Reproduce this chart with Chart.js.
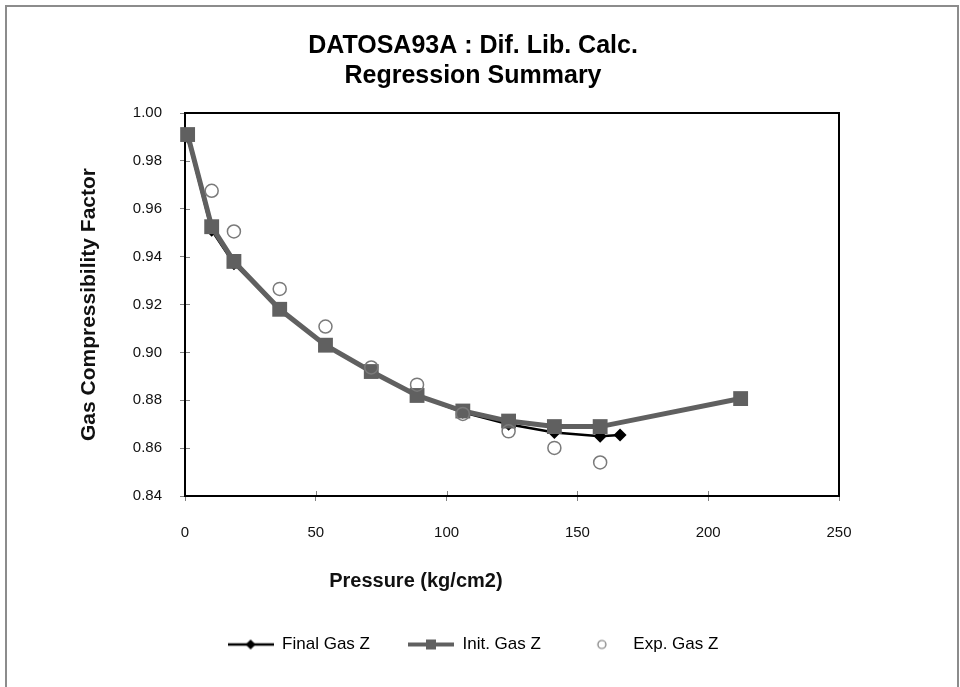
<!DOCTYPE html>
<html>
<head>
<meta charset="utf-8">
<script src="https://cdn.jsdelivr.net/npm/chart.js@4"></script>
<style>
  body { margin: 0; background: #fff; }
  #wrap { position: relative; width: 960px; height: 687px; overflow: hidden; }
  #frame { position: absolute; left: 5px; top: 5px; width: 950px; height: 700px;
           border: 2px solid #8c8c8c; border-bottom: none; pointer-events: none; }
</style>
</head>
<body>
<div id="wrap">
  <canvas id="chart" width="960" height="687"></canvas>
  <div id="frame"></div>
</div>
<script>
// pressure in kg/cm2, Z factor
const finalPressure = [1.0, 10.2, 18.7, 36.2, 53.7, 71.2, 88.7, 106.2, 123.7, 141.2, 158.7, 166.3];
const finalZ = [0.990, 0.951, 0.937, 0.918, 0.903, 0.892, 0.882, 0.875, 0.870, 0.8665, 0.8650, 0.8655];

const initPressure = [1.0, 10.2, 18.7, 36.2, 53.7, 71.2, 88.7, 106.2, 123.7, 141.2, 158.7, 212.4];
const initZ = [0.991, 0.9525, 0.938, 0.918, 0.903, 0.892, 0.882, 0.8755, 0.8713, 0.869, 0.869, 0.8807];

const expPressure = [10.2, 18.7, 36.2, 53.7, 71.2, 88.7, 106.2, 123.7, 141.2, 158.7];
const expZ = [0.9675, 0.9505, 0.9265, 0.9108, 0.8937, 0.8865, 0.8743, 0.867, 0.8601, 0.854];

const labels = ['Final Gas Z', 'Init. Gas Z', 'Exp. Gas Z'];
const xTicks = [0, 50, 100, 150, 200, 250];
const yTicks = [0.84, 0.86, 0.88, 0.90, 0.92, 0.94, 0.96, 0.98, 1.00];
const xTitle = 'Pressure (kg/cm2)';

const FONT = 'Liberation Sans, Arial, sans-serif';
const INIT_GRAY = '#606060';

const toXY = (xs, ys) => xs.map((x, i) => ({x, y: ys[i]}));

// little Excel style legend icons: line with the marker in the middle
function legendIcon(kind) {
    const c = document.createElement('canvas');
    c.width = 46; c.height = 16;
    const ctx = c.getContext('2d');
    if (kind !== 'exp') {
        ctx.strokeStyle = kind === 'final' ? '#000' : INIT_GRAY;
        ctx.lineWidth = kind === 'final' ? 2.5 : 4;
        ctx.beginPath(); ctx.moveTo(0, 8); ctx.lineTo(46, 8); ctx.stroke();
    }
    if (kind === 'final') {
        ctx.fillStyle = '#000';
        ctx.beginPath(); ctx.moveTo(23, 3); ctx.lineTo(28, 8); ctx.lineTo(23, 13); ctx.lineTo(18, 8); ctx.fill();
    } else if (kind === 'init') {
        ctx.fillStyle = INIT_GRAY;
        ctx.fillRect(18, 3, 10, 10);
    } else {
        ctx.strokeStyle = '#777'; ctx.lineWidth = 1.2;
        ctx.beginPath(); ctx.arc(23, 8, 4, 0, Math.PI * 2); ctx.stroke();
    }
    return c;
}
const icons = [legendIcon('final'), legendIcon('init'), legendIcon('exp')];

// box round the plot area, inner half of the crossing tick marks,
// and the x axis title, which sits left of centre in the original
const plotFrame = {
    id: 'plotFrame',
    beforeDatasetsDraw(chart) {
        const {ctx, chartArea: a, scales} = chart;
        ctx.save();
        ctx.strokeStyle = '#808080';
        ctx.lineWidth = 1;
        ctx.beginPath();
        scales.x.ticks.forEach(t => {
            const px = Math.round(scales.x.getPixelForValue(t.value)) + 0.5;
            ctx.moveTo(px, a.bottom); ctx.lineTo(px, a.bottom - 5);
        });
        scales.y.ticks.forEach(t => {
            const py = Math.round(scales.y.getPixelForValue(t.value)) + 0.5;
            ctx.moveTo(a.left, py); ctx.lineTo(a.left + 5, py);
        });
        ctx.stroke();
        ctx.strokeStyle = '#000';
        ctx.lineWidth = 2;
        ctx.strokeRect(a.left, a.top, a.right - a.left, a.bottom - a.top);

        ctx.fillStyle = '#111';
        ctx.font = 'bold 20px ' + FONT;
        ctx.textAlign = 'center';
        ctx.textBaseline = 'middle';
        ctx.fillText(xTitle, a.left + (a.right - a.left) * 0.353, a.bottom + 85);
        ctx.restore();
    }
};

new Chart(document.getElementById('chart'), {
    type: 'scatter',
    data: {
        datasets: [
            {
                label: labels[0],
                data: toXY(finalPressure, finalZ),
                showLine: true,
                borderColor: '#000',
                borderWidth: 2.5,
                backgroundColor: '#000',
                pointStyle: 'rectRot',
                pointRadius: 6.5,
                pointBorderWidth: 0,
                order: 3,
                clip: false,
            },
            {
                label: labels[1],
                data: toXY(initPressure, initZ),
                showLine: true,
                borderColor: INIT_GRAY,
                borderWidth: 5,
                backgroundColor: INIT_GRAY,
                pointStyle: 'rect',
                pointRadius: 10.5,
                pointBorderWidth: 0,
                order: 2,
                clip: false,
            },
            {
                label: labels[2],
                data: toXY(expPressure, expZ),
                showLine: false,
                borderColor: '#7a7a7a',
                backgroundColor: 'rgba(0,0,0,0)',
                pointStyle: 'circle',
                pointRadius: 6.5,
                pointBorderWidth: 1.5,
                order: 1,
                clip: false,
            },
        ]
    },
    options: {
        responsive: false,
        animation: false,
        devicePixelRatio: 1,
        layout: { padding: { left: 0, right: 14, top: 0, bottom: 24 } },
        scales: {
            x: {
                type: 'linear',
                min: 0, max: 250,
                afterBuildTicks: s => { s.ticks = xTicks.map(v => ({value: v})); },
                afterFit: s => { s.height = 102; },
                border: { color: '#000', width: 2 },
                grid: { drawOnChartArea: false, tickLength: 5, color: '#808080' },
                ticks: { padding: 23, color: '#111', font: { family: FONT, size: 15 } },
            },
            y: {
                type: 'linear',
                min: 0.84, max: 1.00,
                afterBuildTicks: s => { s.ticks = yTicks.map(v => ({value: v})); },
                afterFit: s => { s.width = 185; },
                border: { color: '#000', width: 2 },
                grid: { drawOnChartArea: false, tickLength: 5, color: '#808080' },
                ticks: {
                    padding: 18, color: '#111',
                    font: { family: FONT, size: 15 },
                    callback: v => Number(v).toFixed(2),
                },
                title: {
                    display: true,
                    text: 'Gas Compressibility Factor',
                    color: '#111',
                    font: { family: FONT, size: 21, weight: 'bold' },
                    padding: { top: 77, bottom: 0 },
                },
            },
            // empty axis on the right, only to keep room there
            spacer: {
                type: 'linear',
                position: 'right',
                display: true,
                afterFit: s => { s.width = 107; },
                border: { display: false },
                grid: { display: false },
                ticks: { display: false },
            },
        },
        plugins: {
            title: {
                display: true,
                text: ['DATOSA93A : Dif. Lib. Calc.', 'Regression Summary'],
                color: '#000',
                font: { family: FONT, size: 25, weight: 'bold', lineHeight: 1.2 },
                padding: { top: 31, bottom: 22 },
            },
            legend: {
                position: 'bottom',
                labels: {
                    usePointStyle: true,
                    pointStyleWidth: 46,
                    padding: 38,
                    color: '#000',
                    font: { family: FONT, size: 17 },
                    generateLabels: chart => chart.data.datasets.map((ds, i) => ({
                        text: ds.label,
                        pointStyle: icons[i],
                        fontColor: '#000',
                        datasetIndex: i,
                        hidden: false,
                        lineWidth: 0,
                    })),
                },
            },
            tooltip: { enabled: false },
        },
    },
    plugins: [plotFrame],
});
</script>
</body>
</html>
